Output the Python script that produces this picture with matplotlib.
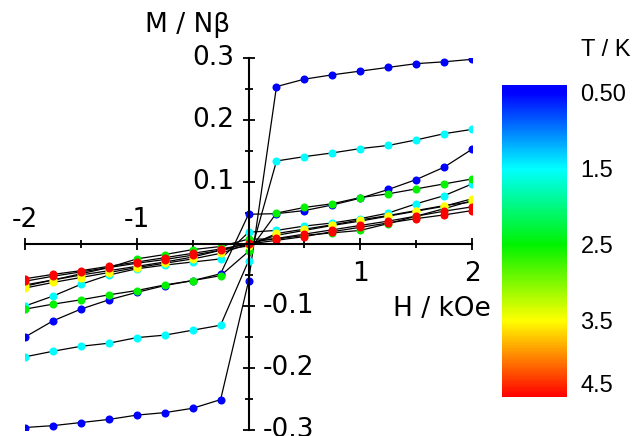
import numpy as np
import matplotlib.pyplot as plt
from matplotlib.colors import LinearSegmentedColormap, Normalize
from matplotlib.cm import ScalarMappable
from matplotlib.ticker import MultipleLocator

# field grid (kOe)
H = [-2.0, -1.75, -1.5, -1.25, -1.0, -0.75, -0.5, -0.25, 0.0,
     0.25, 0.5, 0.75, 1.0, 1.25, 1.5, 1.75, 2.0]

# magnetisation curves, two per temperature
m_050_a = [-0.296, -0.293, -0.288, -0.283, -0.276, -0.272, -0.265, -0.251, -0.060,
           0.254, 0.266, 0.273, 0.279, 0.285, 0.291, 0.294, 0.298]
m_050_b = [-0.150, -0.124, -0.105, -0.090, -0.078, -0.067, -0.059, -0.048, 0.048,
           0.049, 0.054, 0.063, 0.074, 0.088, 0.104, 0.124, 0.153]
m_150_a = [-0.182, -0.173, -0.165, -0.160, -0.151, -0.147, -0.139, -0.131, -0.027,
           0.134, 0.141, 0.147, 0.154, 0.159, 0.168, 0.178, 0.185]
m_150_b = [-0.100, -0.084, -0.065, -0.050, -0.040, -0.034, -0.029, -0.024, 0.019,
           0.022, 0.029, 0.034, 0.041, 0.050, 0.065, 0.078, 0.097]
m_250_a = [-0.105, -0.097, -0.090, -0.082, -0.075, -0.066, -0.059, -0.051, -0.012,
           0.050, 0.059, 0.065, 0.075, 0.081, 0.089, 0.097, 0.105]
m_250_b = [-0.068, -0.058, -0.048, -0.038, -0.024, -0.017, -0.009, -0.004, 0.008,
           0.008, 0.014, 0.018, 0.022, 0.033, 0.045, 0.057, 0.070]
m_350_a = [-0.071, -0.062, -0.054, -0.046, -0.038, -0.031, -0.024, -0.015, 0.000,
           0.014, 0.022, 0.030, 0.037, 0.045, 0.053, 0.061, 0.073]
m_350_b = [-0.066, -0.058, -0.050, -0.043, -0.036, -0.029, -0.021, -0.010, -0.003,
           0.017, 0.024, 0.031, 0.039, 0.046, 0.054, 0.062, 0.068]
m_450_a = [-0.056, -0.049, -0.043, -0.036, -0.029, -0.022, -0.015, -0.008, 0.000,
           0.006, 0.012, 0.020, 0.027, 0.034, 0.041, 0.047, 0.054]
m_450_b = [-0.060, -0.052, -0.045, -0.038, -0.031, -0.025, -0.018, -0.010, 0.002,
           0.009, 0.016, 0.023, 0.030, 0.037, 0.045, 0.053, 0.060]

temps = [0.5, 0.5, 1.5, 1.5, 2.5, 2.5, 3.5, 3.5, 4.5, 4.5]
curves = [m_050_a, m_050_b, m_150_a, m_150_b, m_250_a, m_250_b,
          m_350_a, m_350_b, m_450_a, m_450_b]

xticks = [-2, -1, 1, 2]
yticks = [-0.3, -0.2, -0.1, 0.1, 0.2, 0.3]
cb_ticks = [0.5, 1.5, 2.5, 3.5, 4.5]
cb_labels = ['0.50', '1.5', '2.5', '3.5', '4.5']

# colour scale
tmin, tmax = 0.4, 4.5
norm = Normalize(tmin, tmax)
nodes = [(0.0, 'blue')] + [((t - tmin) / (tmax - tmin), c) for t, c in
                           zip(cb_ticks, ['blue', 'cyan', (0, 0.95, 0), 'yellow', 'red'])]
cmap = LinearSegmentedColormap.from_list('tk', nodes)

fig = plt.figure(figsize=(6.36, 4.36), dpi=100)
ax = fig.add_axes([0.0393, 0.0138, 0.703, 0.853])

for T, m in zip(temps, curves):
    ax.plot(H, m, color='black', lw=0.9, zorder=2)
for T, m in zip(temps, curves):
    ax.plot(H, m, ls='none', marker='o', ms=5.8, mec='none', color=cmap(norm(T)), zorder=3)

ax.set_xlim(-2, 2)
ax.set_ylim(-0.3, 0.3)
ax.spines['left'].set_position(('data', 0))
ax.spines['bottom'].set_position(('data', 0))
ax.spines['top'].set_visible(False)
ax.spines['right'].set_visible(False)
for s in ['left', 'bottom']:
    ax.spines[s].set_linewidth(1.5)
    ax.spines[s].set_zorder(4)
ax.xaxis.set_major_locator(MultipleLocator(1))
ax.xaxis.set_minor_locator(MultipleLocator(0.5))
ax.yaxis.set_major_locator(MultipleLocator(0.1))
ax.yaxis.set_minor_locator(MultipleLocator(0.05))
ax.tick_params(which='both', direction='inout', labelbottom=False, labelleft=False, width=1.3)
ax.tick_params(which='major', length=9)
ax.tick_params(which='minor', length=5.5)

fs = 19
for v in xticks:
    if v < 0:
        ax.annotate(str(v), xy=(v, 0), xytext=(0, 8), textcoords='offset points',
                    ha='center', va='bottom', fontsize=fs)
    else:
        ax.annotate(str(v), xy=(v, 0), xytext=(0, -12), textcoords='offset points',
                    ha='center', va='top', fontsize=fs)
for v in yticks:
    if v > 0:
        ax.annotate('%.1f' % v, xy=(0, v), xytext=(-10, 0), textcoords='offset points',
                    ha='right', va='center', fontsize=fs)
    else:
        ax.annotate('%.1f' % v, xy=(0, v), xytext=(10, 0), textcoords='offset points',
                    ha='left', va='center', fontsize=fs)

ax.text(-0.55, 0.354, 'M / Nβ', ha='center', va='center', fontsize=fs, clip_on=False)
ax.text(1.73, -0.105, 'H / kOe', ha='center', va='center', fontsize=fs, clip_on=False)

# colour bar
cax = fig.add_axes([0.789, 0.0894, 0.102, 0.716])
cb = fig.colorbar(ScalarMappable(norm=norm, cmap=cmap), cax=cax)
cax.invert_yaxis()
cb.set_ticks(cb_ticks)
cb.set_ticklabels(cb_labels)
cb.outline.set_visible(False)
cax.tick_params(length=0, pad=10, labelsize=17)
for lab in cax.get_yticklabels():
    lab.set_family('Liberation Sans')
cax.get_yticklabels()[-1].set_va('bottom')
fig.text(0.953, 0.885, 'T / K', ha='center', va='center', fontsize=17, family='Liberation Sans')

fig.savefig('out.png', dpi=100)
